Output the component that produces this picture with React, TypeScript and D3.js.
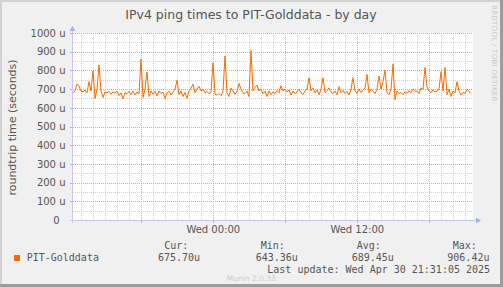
import React from "react";
import * as d3 from "d3";

const W = 503;
const H = 287;

const title = "IPv4 ping times to PIT-Golddata - by day";
const yAxisTitle = "roundtrip time (seconds)";
const seriesName = "PIT-Golddata";
const yTicks = [0, 100, 200, 300, 400, 500, 600, 700, 800, 900, 1000];
const yTickLabels = ["0", "100 u", "200 u", "300 u", "400 u", "500 u", "600 u", "700 u", "800 u", "900 u", "1000 u"];
const statHeaders = ["Cur:", "Min:", "Avg:", "Max:"];
const statValues = ["675.70u", "643.36u", "689.45u", "906.42u"];
const lastUpdate = "Last update: Wed Apr 30 21:31:05 2025";
const munin = "Munin 2.0.33";
const rrdNote = "RRDTOOL / TOBI OETIKER";

// time window: Tue Apr 29 12:18:30 -> Wed Apr 30 21:38:30 (10 min samples)
const startTime = new Date(2025, 3, 29, 12, 18, 30);
const endTime = new Date(2025, 3, 30, 21, 38, 30);
const stepMinutes = 10;

// values in microseconds
const pingValues = [
  680, 690, 727, 715, 690, 686, 695, 680, 740, 690,
  797, 650, 700, 829, 690, 655, 685, 680, 688, 672,
  685, 678, 690, 665, 680, 648, 682, 675, 688, 670,
  690, 668, 684, 675, 860, 655, 700, 792, 660, 690,
  672, 688, 664, 690, 676, 684, 650, 680, 690, 668,
  685, 700, 748, 670, 690, 660, 682, 650, 690, 705,
  727, 680, 700, 715, 690, 698, 680, 688, 676, 682,
  841, 672, 668, 676, 665, 690, 877, 680, 660, 705,
  690, 672, 688, 731, 700, 680, 676, 690, 660, 907,
  690, 710, 722, 690, 700, 675, 688, 660, 690, 670,
  685, 676, 692, 680, 718, 690, 700, 684, 695, 668,
  690, 676, 685, 700, 680, 672, 690, 700, 761, 690,
  705, 680, 696, 670, 700, 761, 680, 692, 706, 684,
  676, 690, 670, 713, 680, 692, 676, 688, 668, 700,
  761, 690, 676, 700, 682, 695, 705, 778, 680, 700,
  690, 676, 700, 770, 700, 740, 802, 680, 670, 700,
  834, 643, 690, 676, 682, 670, 686, 676, 692, 680,
  700, 688, 690, 676, 705, 700, 815, 712, 690, 680,
  696, 684, 690, 700, 793, 690, 816, 670, 700, 660,
  690, 680, 740, 690, 668, 682, 676, 700, 688, 676,
];

const PL = 73;
const PR = 473;
const PT = 33;
const PB = 220;

const TEXT = "#555555";
const MGRID = "#e6a3a3";
const GRID = "#d4d4d4";
const AXIS = "#c8c8f8";
const ARROW = "#a8aef0";
const LINE = "#ff6a00";

export default function App() {
  const x = d3.scaleTime().domain([startTime, endTime]).range([PL, PR]);
  const y = d3.scaleLinear().domain([0, 1000]).range([PB, PT]);

  const data = pingValues.map((v, i) => ({
    t: new Date(startTime.getTime() + i * stepMinutes * 60000),
    v,
  }));
  const line = d3
    .line<{ t: Date; v: number }>()
    .x((d) => x(d.t))
    .y((d) => y(d.v));

  const minorHours = d3.timeHour.every(1)!.range(startTime, endTime);
  const majorHours = d3.timeHour.every(6)!.range(startTime, endTime);
  const labelHours = d3.timeHour.every(12)!.range(startTime, endTime);
  const fmt = d3.timeFormat("%a %H:%M");
  const minorY = d3.range(50, 1000, 100);

  const sans = "'DejaVu Sans', Verdana, sans-serif";
  const mono = "'DejaVu Sans Mono', monospace";

  const statX = [158, 255.7, 351.7, 447.3];
  const headX = [164.3, 260.7, 356.7, 452.7];

  return (
    <svg
      width={W}
      height={H}
      style={{ position: "absolute", left: 0, top: 0, display: "block" }}
      shapeRendering="crispEdges"
    >
      <rect x={0} y={0} width={W} height={H} fill="#f0f0f0" />
      {/* frame shading */}
      <rect x={0} y={0} width={W} height={2} fill="#d2d2d2" />
      <rect x={0} y={0} width={2} height={H} fill="#d2d2d2" />
      <rect x={W - 3} y={0} width={3} height={H} fill="#9c9c9c" />
      <rect x={0} y={H - 3} width={W} height={3} fill="#9c9c9c" />

      <rect x={PL} y={PT} width={PR - PL} height={PB - PT} fill="#ffffff" />

      {/* minor grid */}
      {minorY.map((v) => (
        <line key={"my" + v} x1={PL} x2={PR} y1={y(v) + 0.5} y2={y(v) + 0.5} stroke={GRID} strokeDasharray="1,1" />
      ))}
      {minorHours.map((t) => (
        <line key={"mx" + t.getTime()} x1={Math.round(x(t)) + 0.5} x2={Math.round(x(t)) + 0.5} y1={PT} y2={PB} stroke={GRID} strokeDasharray="1,1" />
      ))}
      {/* major grid */}
      {yTicks.slice(1).map((v) => (
        <line key={"My" + v} x1={PL} x2={PR} y1={Math.round(y(v)) + 0.5} y2={Math.round(y(v)) + 0.5} stroke={MGRID} strokeDasharray="1,1" />
      ))}
      {majorHours.map((t) => (
        <line key={"Mx" + t.getTime()} x1={Math.round(x(t)) + 0.5} x2={Math.round(x(t)) + 0.5} y1={PT} y2={PB} stroke={MGRID} strokeDasharray="1,1" />
      ))}

      {/* ticks */}
      {yTicks.map((v) => (
        <line key={"ty" + v} x1={PL - 3} x2={PL} y1={Math.round(y(v)) + 0.5} y2={Math.round(y(v)) + 0.5} stroke={MGRID} />
      ))}
      {majorHours.map((t) => (
        <line key={"tx" + t.getTime()} x1={Math.round(x(t)) + 0.5} x2={Math.round(x(t)) + 0.5} y1={PB} y2={PB + 3} stroke={MGRID} />
      ))}

      {/* axes */}
      <line x1={PL - 0.5} x2={PL - 0.5} y1={PB + 3} y2={PT - 5} stroke={AXIS} />
      <line x1={PL - 3} x2={PR + 4} y1={PB + 0.5} y2={PB + 0.5} stroke={AXIS} />
      <path d={`M${PL - 3.5},${PT - 2} L${PL - 0.5},${PT - 7} L${PL + 2.5},${PT - 2} Z`} fill={ARROW} shapeRendering="auto" />
      <path d={`M${PR + 3},${PB - 2.5} L${PR + 8},${PB + 0.5} L${PR + 3},${PB + 3.5} Z`} fill={ARROW} shapeRendering="auto" />

      {/* data */}
      <path d={line(data) || ""} fill="none" stroke={LINE} strokeWidth={1} shapeRendering="auto" />

      {/* y labels */}
      {yTicks.map((v, i) => (
        <text
          key={"yl" + v}
          x={v === 0 ? 59.5 : 65.5}
          y={y(v) + 3.7}
          textAnchor="end"
          fontFamily={sans}
          fontSize={10}
          fill={TEXT}
        >
          {yTickLabels[i]}
        </text>
      ))}
      {/* x labels */}
      {labelHours.map((t) => (
        <text key={"xl" + t.getTime()} x={x(t)} y={233} textAnchor="middle" fontFamily={sans} fontSize={10} fill={TEXT}>
          {fmt(t)}
        </text>
      ))}

      {/* title */}
      <text x={251} y={19} textAnchor="middle" fontFamily={sans} fontSize={12.5} fill={TEXT}>
        {title}
      </text>
      {/* y axis title */}
      <text
        transform={`translate(15.5,${(PT + PB) / 2 + 1}) rotate(-90)`}
        textAnchor="middle"
        fontFamily={sans}
        fontSize={11}
        fill={TEXT}
      >
        {yAxisTitle}
      </text>

      {/* watermark */}
      <text
        transform={`translate(491.5,5) rotate(90)`}
        fontFamily={sans}
        fontSize={7}
        fill="#c8c8c8"
        letterSpacing={0.3}
      >
        {rrdNote}
      </text>

      {/* legend */}
      <rect x={14} y={255} width={6} height={6} fill={LINE} />
      <text x={26.7} y={261} fontFamily={mono} fontSize={10} fill={TEXT}>
        {seriesName}
      </text>
      {statHeaders.map((h, i) => (
        <text key={"sh" + i} x={headX[i]} y={249} fontFamily={mono} fontSize={10} fill={TEXT}>
          {h}
        </text>
      ))}
      {statValues.map((s, i) => (
        <text key={"sv" + i} x={statX[i]} y={261} fontFamily={mono} fontSize={10} fill={TEXT}>
          {s}
        </text>
      ))}
      <text x={267.3} y={272.5} fontFamily={mono} fontSize={10} fill={TEXT}>
        {lastUpdate}
      </text>
      <text x={226.7} y={281} fontFamily={sans} fontSize={7.5} fill="#cccccc">
        {munin}
      </text>
    </svg>
  );
}
